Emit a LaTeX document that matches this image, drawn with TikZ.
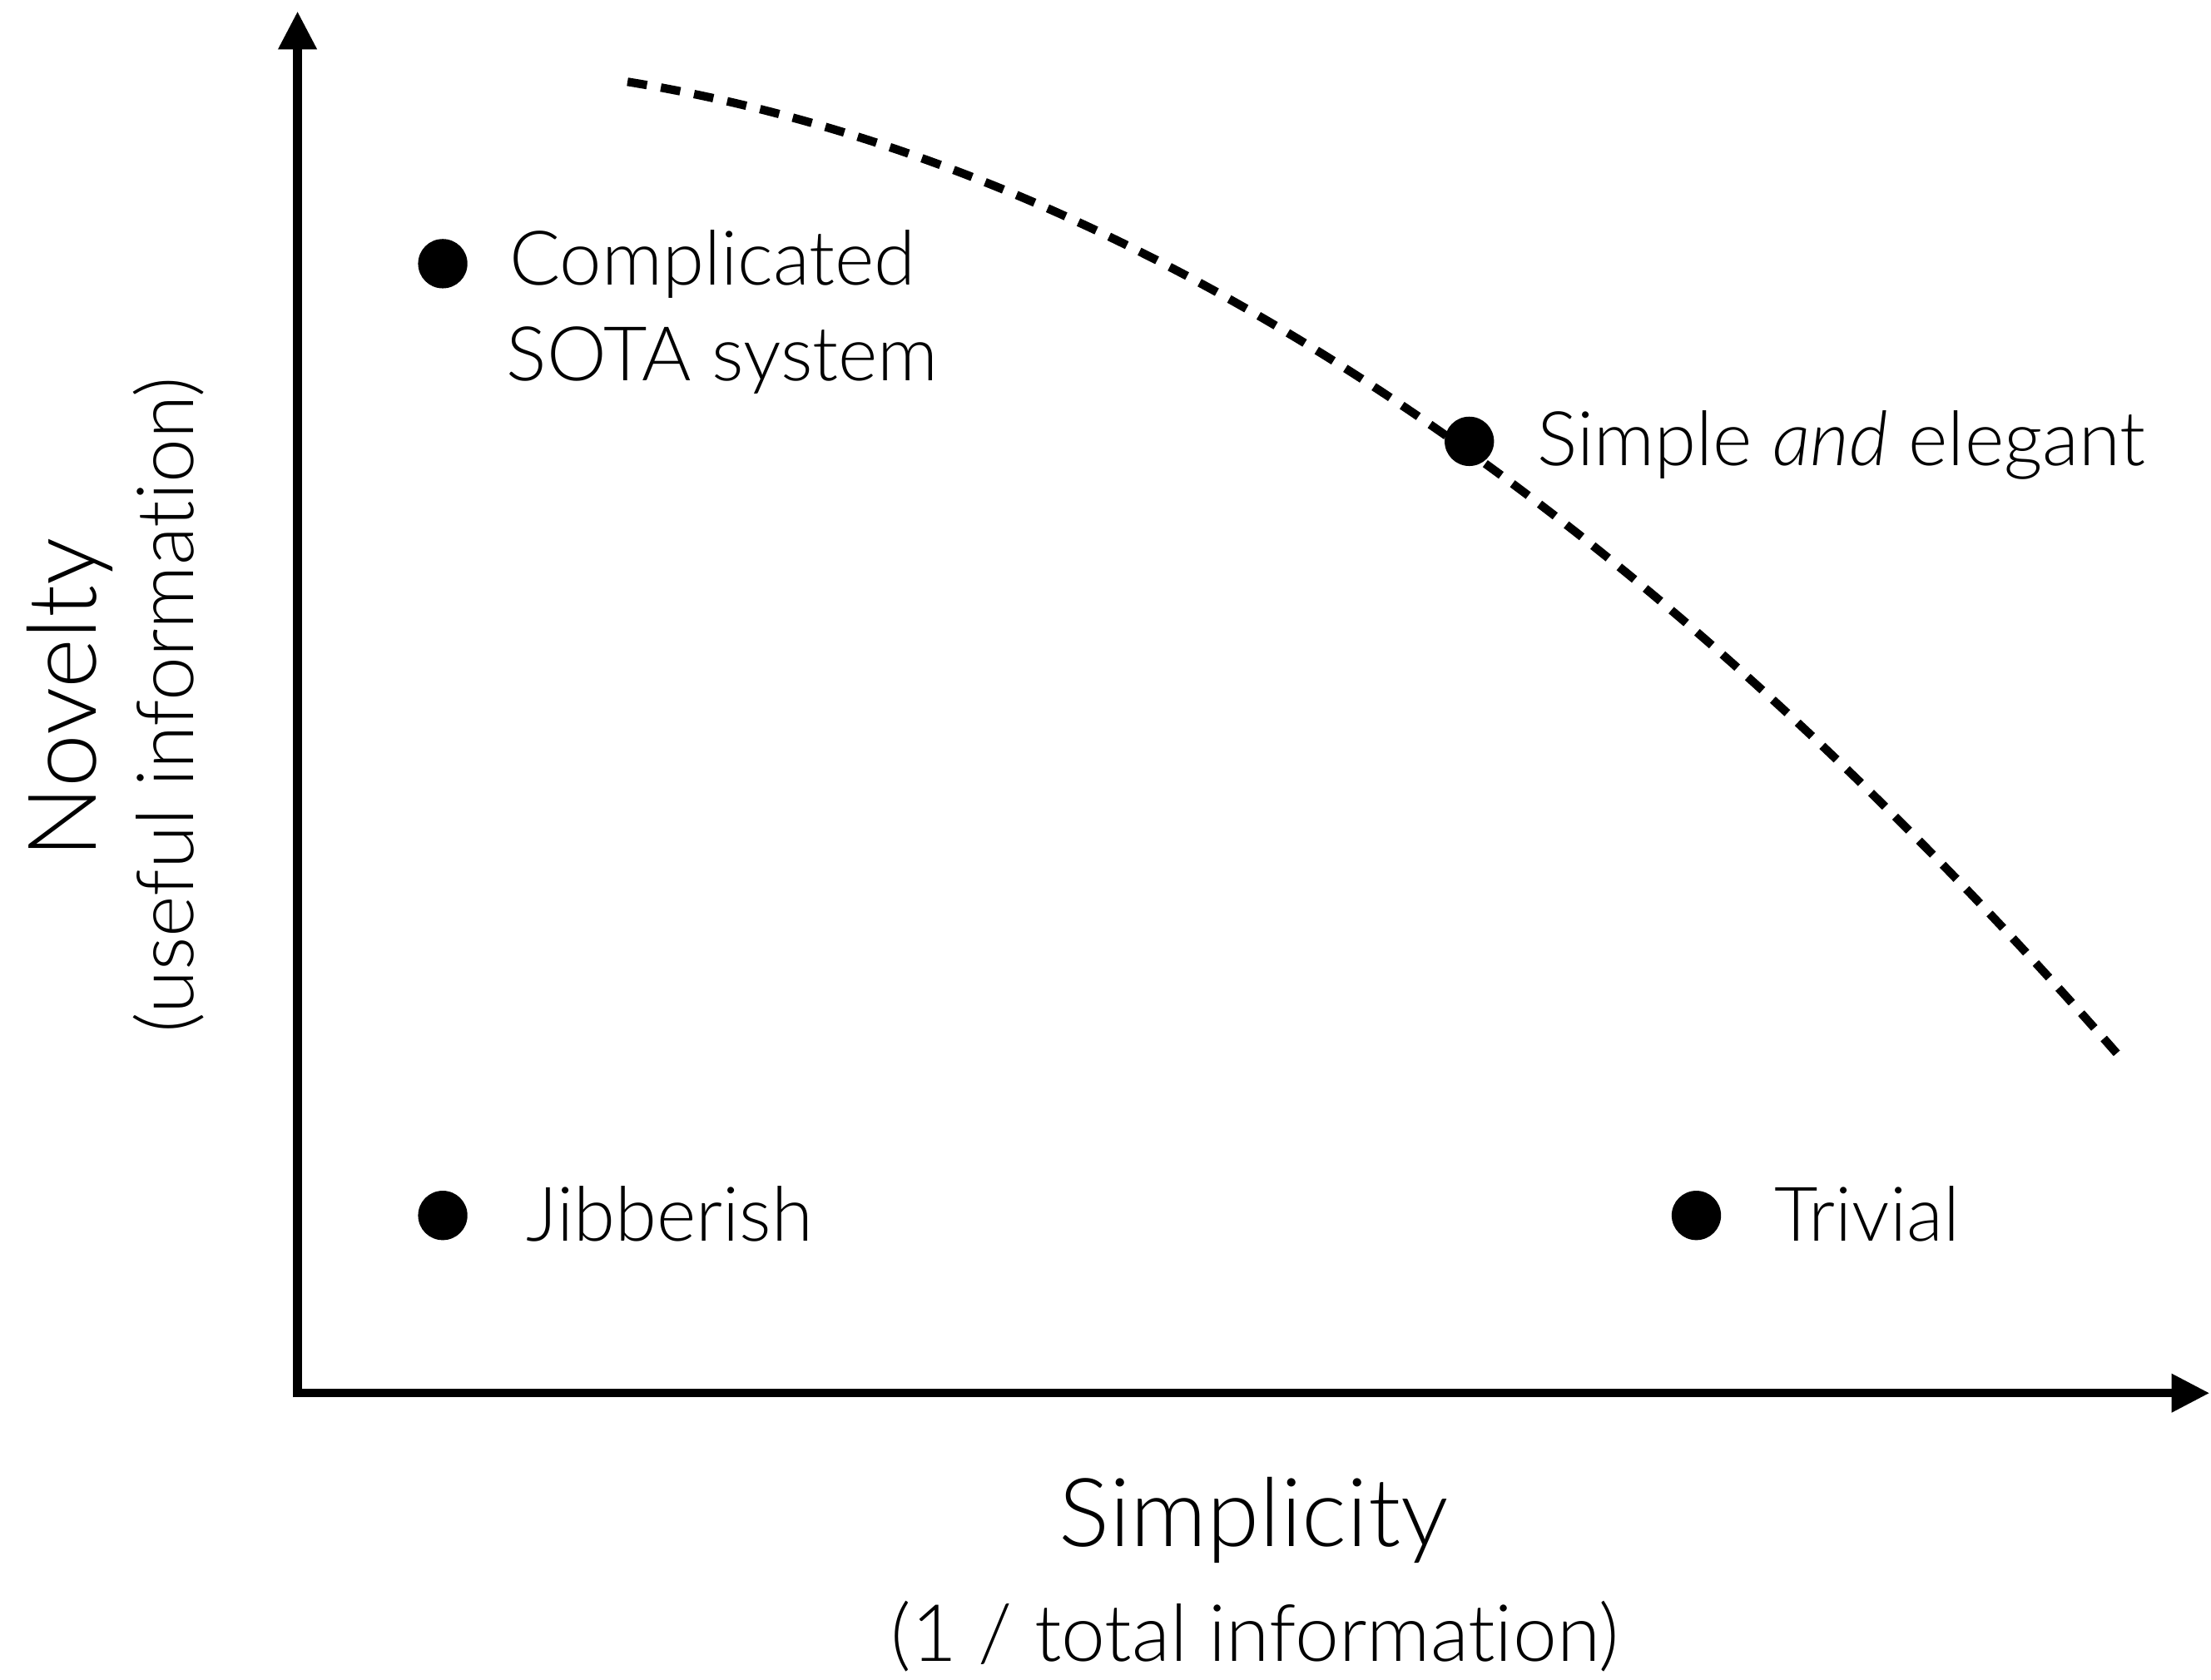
\documentclass[tikz,border=0pt]{standalone}
\usepackage{fontspec}
\setmainfont{Lato}[UprightFont=* Light, ItalicFont=* Light Italic, Ligatures={NoCommon,NoRare}]
\usetikzlibrary{arrows.meta}
\begin{document}
\begin{tikzpicture}[x=1pt,y=-1pt,
  axis/.style={line width=6pt,-{Triangle[length=27pt,width=26pt]}},
  curve/.style={line width=6pt,dash pattern=on 14pt off 10pt},
  pt/.style={circle,fill=black,inner sep=0pt,minimum size=35pt},
  lbl/.style={font=\fontsize{53.5}{68}\selectfont,anchor=base west,inner sep=0pt},
  axlbl/.style={font=\fontsize{67.5}{80}\selectfont,inner sep=0pt},
  axsub/.style={font=\fontsize{56}{64}\selectfont,inner sep=0pt}]
\useasboundingbox (0,0) rectangle (1568,1191);
% axes
\coordinate (O) at (211,988);
\coordinate (ytip) at (211,8);
\coordinate (xtip) at (1567,988);
\draw[axis] (211,991) -- (ytip);
\draw[axis] (208,988) -- (xtip);
% dashed frontier
\coordinate (c0) at (445,58);
\coordinate (c1) at (1502,748);
\draw[curve] (c0) .. controls (796,115) and (1149,345) .. (c1);
% points
\node[pt] (p1) at (314,187) {};
\node[pt] (p2) at (1042,313) {};
\node[pt] (p3) at (314,862) {};
\node[pt] (p4) at (1203,862) {};
% labels
\node[lbl] (l1a) at (361,202) {Complicated};
\node[lbl] (l1b) at (359,270) {SOTA system};
\node[lbl] (l2) at (1090,330) {Simple \textit{and} elegant};
\node[lbl] (l3) at (373,880) {Jibberish};
\node[lbl] (l4) at (1258,880) {Trivial};
\node[axlbl,anchor=base] (xl) at (889,1097) {Simplicity};
\node[axsub,anchor=base] (xs) at (890,1178) {(1 / total information)};
\node[axlbl,anchor=base,rotate=90] (yl) at (68,495) {Novelty};
\node[axsub,anchor=base,rotate=90] (ys) at (137,500) {(useful information)};
\end{tikzpicture}
\end{document}
